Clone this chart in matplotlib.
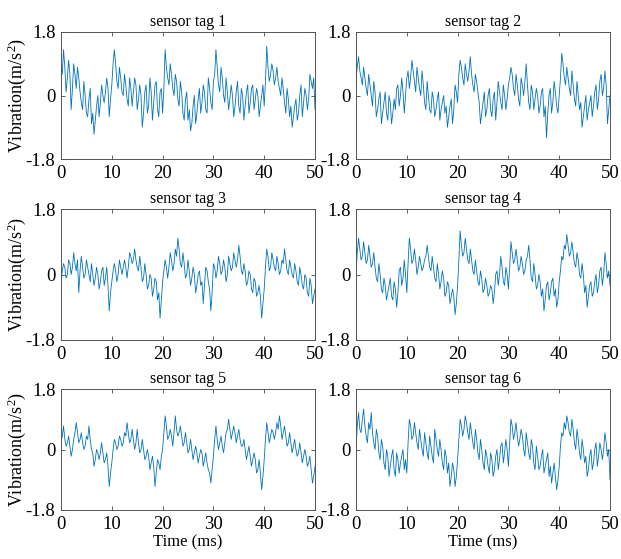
import matplotlib
matplotlib.use("Agg")
import matplotlib.pyplot as plt
import numpy as np

plt.rcParams['font.family'] = ['Liberation Serif', 'DejaVu Serif']
plt.rcParams['mathtext.fontset'] = 'custom'
plt.rcParams['mathtext.rm'] = 'Liberation Serif'
plt.rcParams['mathtext.default'] = 'regular'

# samples read every 0.5 ms (tagN) and the samples between them (tagN_mid)
tag1 = [0.9, 1.3, 0.1, 1.0, -0.4, 0.9, 0.2, 0.5, -0.2, 0.4,
        -0.5, -0.1, -0.8, -1.1, -0.3, -0.6, 0.3, -0.2, 0.5, -0.6,
        0.3, 1.3, 0.4, 0.8, 0.1, 0.6, -0.1, 0.5, -0.3, 0.5,
        -0.4, 0.3, -0.9, 0.1, -0.5, 0.5, -0.7, 0.3, -0.4, 0.1,
        -0.5, 1.3, 0.5, 0.9, 0.2, 0.6, -0.1, 0.4, -0.5, -0.1,
        -0.7, -1.0, -0.3, -0.8, -0.1, -0.5, 0.3, -0.4, 0.5, -0.2,
        0.4, 1.3, 0.3, 0.8, 0.0, 0.5, -0.4, 0.3, -0.6, 0.1,
        -0.3, 0.2, -0.7, 0.1, -0.5, 0.2, -0.4, 0.2, -0.6, 0.0,
        -0.3, 1.4, 0.4, 0.9, 0.3, 0.8, 0.2, 0.5, -0.2, 0.2,
        -0.6, -0.9, -0.3, -0.7, 0.0, -0.6, 0.2, -0.4, 0.6, 0.2,
        -0.4]
tag1_mid = [0.6, 0.8, 0.5, 0.6, 0.2, 0.6, 0.8, 0.1, -0.4, 0.0,
            -0.6, 0.2, -0.5, -0.7, 0.0, -0.2, 0.0, 0.1, 0.2, -0.1,
            0.9, 0.9, 0.2, 0.5, 0.0, 0.3, -0.3, 0.2, 0.1, 0.3,
            -0.1, 0.0, -0.5, 0.3, -0.3, 0.1, -0.2, 0.4, -0.6, 0.2,
            0.2, 0.8, 0.3, 0.6, 0.0, 0.4, -0.3, 0.1, -0.7, 0.1,
            -0.4, -0.8, 0.0, -0.5, 0.2, -0.2, 0.1, -0.5, 0.2, -0.4,
            0.6, 0.8, 0.1, 0.5, -0.2, 0.1, -0.1, 0.0, -0.3, 0.4,
            -0.5, 0.0, -0.3, 0.3, -0.2, 0.3, -0.1, 0.0, -0.3, 0.3,
            0.4, 0.8, 0.6, 0.7, 0.5, 0.4, 0.0, 0.2, -0.5, -0.1,
            -0.3, -0.6, -0.1, -0.5, 0.3, -0.2, 0.0, -0.1, 0.4, 0.5]

tag2 = [0.5, 1.1, 0.5, 0.8, 0.2, 0.6, 0.0, 0.4, -0.6, -0.1,
        -0.8, -0.2, -0.5, 0.0, -0.8, -0.1, 0.2, -0.3, 0.5, -0.5,
        0.5, 0.2, 1.0, 0.4, 0.8, 0.2, 0.7, -0.2, 0.4, -0.4,
        0.1, -0.6, -0.1, -0.7, -0.2, -0.5, -0.9, -0.3, -0.8, 0.3,
        -0.2, 1.0, 0.5, 0.9, 0.4, 1.1, 0.3, 0.6, 0.1, -0.8,
        -0.2, -0.6, 0.0, -0.4, -0.1, -0.7, 0.4, -0.2, 0.3, -0.4,
        0.3, 0.8, 0.2, 0.6, -0.1, 0.5, 0.0, 0.9, -0.2, 0.3,
        -0.4, 0.2, -0.5, 0.1, -0.6, -1.2, 0.0, -0.5, 0.4, -0.3,
        0.0, 1.2, 0.5, 0.8, 0.2, 0.7, -0.1, 0.4, -0.4, -0.9,
        -0.3, -0.7, -0.2, -0.6, 0.1, -0.4, 0.4, 0.0, 0.7, -0.8,
        0.0]
tag2_mid = [0.8, 0.7, 0.3, 0.5, 0.0, 0.3, -0.3, 0.1, -0.4, 0.1,
            -0.5, 0.1, -0.7, -0.2, -0.5, -0.4, 0.3, 0.0, 0.1, 0.0,
            0.7, 0.5, 0.7, 0.1, 0.5, 0.0, 0.3, -0.4, 0.0, -0.5,
            -0.1, -0.4, 0.1, -0.4, 0.0, -0.3, -0.6, -0.1, -0.4, 0.1,
            0.6, 0.8, 0.3, 0.6, 0.7, 0.6, 0.1, 0.4, -0.2, -0.5,
            0.1, -0.4, 0.2, -0.6, 0.1, -0.2, 0.1, -0.4, 0.0, -0.1,
            0.5, 0.6, 0.0, 0.3, -0.3, 0.3, 0.4, 0.3, -0.4, 0.1,
            -0.1, 0.0, -0.3, 0.2, -0.3, -0.5, 0.2, -0.2, 0.1, -0.5,
            0.5, 0.9, 0.3, 0.5, 0.0, 0.3, -0.3, 0.0, -0.2, -0.6,
            0.0, -0.4, 0.0, -0.3, 0.3, -0.1, 0.6, 0.2, 0.3, -0.4]

tag3 = [-0.3, 0.3, -0.1, 0.4, 0.0, 0.6, 0.1, -0.5, 0.5, -0.1,
        0.4, 0.0, 0.3, -0.3, 0.2, -0.4, 0.1, -0.3, 0.2, -1.0,
        -0.2, 0.3, -0.2, 0.4, 0.0, 0.4, -0.1, 0.6, 0.3, 0.7,
        0.2, 0.5, -0.2, 0.3, -0.4, 0.0, -0.6, -0.1, -0.7, -1.2,
        -0.2, 0.4, -0.1, 0.6, 0.1, 0.7, 1.0, 0.3, 0.6, -0.1,
        0.4, -0.3, 0.2, -0.5, 0.0, -0.3, -0.8, 0.2, -0.2, -1.0,
        0.3, -0.1, 0.5, 0.0, 0.4, -0.2, 0.5, 0.1, 0.6, 0.2,
        0.8, 0.1, 0.3, -0.3, 0.1, -0.4, -0.1, -0.6, -0.3, -1.2,
        -0.4, 0.7, 0.1, 0.6, 0.2, 0.5, 0.0, 0.4, 0.7, 0.1,
        0.4, 0.0, 0.3, -0.2, 0.2, -0.3, 0.0, -0.5, -0.1, -0.8,
        -0.4]
tag3_mid = [0.1, 0.2, 0.0, 0.3, 0.2, 0.3, 0.4, 0.1, 0.2, 0.0,
            0.2, -0.2, 0.0, -0.1, 0.0, -0.2, 0.2, -0.1, -0.3, -0.5,
            0.1, 0.1, 0.0, 0.2, 0.2, 0.2, 0.2, 0.5, 0.4, 0.4,
            0.1, 0.2, -0.1, 0.0, -0.3, -0.1, -0.4, -0.2, -0.5, -0.7,
            0.1, 0.2, 0.2, 0.4, 0.3, 0.5, 0.7, 0.2, 0.3, 0.0,
            0.1, -0.1, 0.0, -0.3, 0.1, -0.2, -0.3, 0.1, -0.4, -0.5,
            0.2, 0.1, 0.3, 0.1, 0.2, 0.0, 0.3, 0.2, 0.4, 0.4,
            0.5, 0.0, 0.1, -0.2, 0.0, -0.5, -0.2, -0.5, -0.6, -0.8,
            0.2, 0.5, 0.2, 0.4, 0.1, 0.3, 0.1, 0.3, 0.4, 0.0,
            0.2, -0.1, 0.1, -0.3, 0.0, -0.4, -0.1, -0.6, -0.3, -0.6]

tag4 = [0.0, 1.0, 0.4, 0.9, 0.3, 0.8, 0.2, 0.6, -0.1, 0.3,
        -0.4, -0.1, -0.7, -0.3, -0.6, -0.2, -0.9, 0.1, -0.3, 0.4,
        -0.5, 1.0, 0.3, 0.7, 0.0, 0.5, 0.1, 0.4, 0.8, 0.2,
        0.5, -0.1, 0.3, -0.4, 0.1, -0.6, -0.2, -0.8, -0.4, -1.1,
        -0.3, 1.2, 0.5, 1.0, 0.4, 0.7, 0.1, 0.4, -0.2, 0.1,
        -0.5, -0.1, -0.6, -0.3, -0.8, 0.0, -0.3, 0.5, -0.2, 0.2,
        -0.4, 0.9, 0.3, 0.7, 0.1, 0.5, 0.0, 0.4, 0.8, -0.1,
        0.3, -0.4, 0.0, -0.6, -1.0, -0.3, -0.7, -0.2, -0.6, -0.9,
        -0.2, 0.5, 0.8, 1.1, 0.5, 0.9, 0.3, 0.6, 0.0, 0.3,
        -0.5, -0.9, -0.3, -0.6, -0.2, -0.5, 0.1, -0.3, 0.6, -0.1,
        -0.3]
tag4_mid = [0.6, 0.7, 0.5, 0.6, 0.4, 0.5, 0.3, 0.2, -0.2, 0.0,
            -0.5, -0.3, -0.5, -0.1, -0.7, -0.4, -0.5, 0.2, -0.1, 0.0,
            0.3, 0.7, 0.4, 0.4, 0.2, 0.3, 0.2, 0.5, 0.5, 0.1,
            0.2, -0.2, 0.0, -0.2, -0.1, -0.5, -0.3, -0.6, -0.6, -0.8,
            0.4, 0.8, 0.6, 0.7, 0.3, 0.4, 0.0, 0.1, -0.3, -0.1,
            -0.4, -0.3, -0.5, -0.4, -0.5, 0.1, 0.0, 0.2, -0.3, 0.0,
            0.2, 0.6, 0.4, 0.4, 0.2, 0.3, 0.1, 0.5, 0.4, -0.2,
            0.0, -0.3, -0.2, -0.4, -0.7, -0.2, -0.5, -0.1, -0.4, -0.7,
            0.1, 0.4, 0.7, 0.8, 0.6, 0.6, 0.2, 0.4, -0.1, 0.0,
            -0.3, -0.6, -0.2, -0.5, 0.0, -0.3, 0.2, 0.0, 0.3, 0.1]

tag5 = [0.2, 0.7, 0.1, 0.4, -0.2, 0.3, 0.8, 0.2, 0.5, 0.0,
        0.4, 0.7, 0.0, -0.5, 0.0, -0.3, 0.2, -0.4, -0.1, -1.1,
        -0.4, 0.3, 0.0, 0.4, 0.1, 0.5, 0.8, 0.2, 0.6, 0.0,
        0.6, -0.1, 0.3, -0.3, 0.0, -0.6, -0.2, -1.1, -0.3, -0.6,
        0.0, 1.0, 0.3, 0.6, 0.1, 1.0, 0.4, 0.7, 0.1, 0.5,
        -0.1, 0.3, -0.3, 0.1, -0.4, 0.0, -0.5, -0.1, -0.6, -1.0,
        -0.2, 0.7, 0.0, 0.4, -0.1, 0.5, 0.9, 0.3, 0.7, 0.2,
        0.6, 0.1, 0.3, -0.3, 0.1, -0.5, -0.1, -0.7, -0.3, -1.2,
        -0.3, 0.8, 0.2, 0.6, 0.3, 0.8, 1.0, 0.3, 0.7, 0.1,
        0.5, -0.1, 0.3, -0.2, 0.2, -0.4, 0.0, -0.5, -0.2, -1.0,
        -0.5]
tag5_mid = [0.4, 0.3, 0.2, 0.1, 0.0, 0.5, 0.5, 0.3, 0.2, 0.1,
            0.3, 0.3, -0.1, -0.3, -0.1, -0.1, -0.1, -0.3, -0.5, -0.7,
            0.0, 0.2, 0.1, 0.3, 0.2, 0.4, 0.5, 0.3, 0.3, 0.2,
            0.2, 0.0, 0.0, -0.2, -0.2, -0.4, -0.5, -0.7, -0.4, -0.2,
            0.5, 0.7, 0.4, 0.4, 0.5, 0.6, 0.5, 0.4, 0.2, 0.2,
            0.0, 0.0, -0.1, -0.1, -0.2, -0.1, -0.3, -0.4, -0.7, -0.6,
            0.3, 0.3, 0.2, 0.1, 0.2, 0.6, 0.6, 0.5, 0.5, 0.4,
            0.3, 0.1, 0.0, -0.1, -0.2, -0.3, -0.3, -0.6, -0.7, -0.8,
            0.3, 0.5, 0.4, 0.5, 0.5, 0.6, 0.7, 0.5, 0.4, 0.2,
            0.2, 0.1, 0.0, -0.1, -0.1, -0.2, -0.2, -0.4, -0.6, -0.8]

tag6 = [0.0, 1.1, 0.5, 1.2, 0.4, 0.8, 1.1, 0.2, 0.6, -0.1,
        0.3, -0.4, 0.0, -0.8, -0.2, -0.6, -0.1, -0.7, -0.2, -0.6,
        -0.7, 0.9, 0.3, 0.8, 0.2, 0.6, 0.0, 0.5, -0.1, 0.4,
        -0.2, 0.6, 0.0, 0.3, -0.4, 0.0, -0.7, -1.1, -0.4, -1.1,
        -0.3, 0.9, 0.4, 1.0, 0.5, 0.8, 0.2, 0.6, -0.1, 0.3,
        -0.4, 0.0, -0.5, -0.1, -0.8, -0.2, -0.6, 0.1, -0.4, 0.3,
        -0.5, 0.9, 0.3, 0.8, 0.1, 0.6, 0.0, 0.5, -0.1, 0.3,
        -0.4, 0.1, -0.6, -0.2, -0.7, -0.3, -0.8, -1.0, -0.4, -1.2,
        -0.5, 0.5, 0.8, 1.0, 0.5, 0.9, 0.2, 0.6, -0.1, 0.3,
        -0.4, -0.8, -0.2, -0.6, 0.0, -0.5, 0.2, -0.3, 0.5, -0.2,
        -0.9]
tag6_mid = [0.7, 0.6, 0.9, 0.7, 0.2, 0.6, 0.5, 0.0, 0.4, -0.3,
            0.1, -0.6, -0.2, -0.5, 0.0, -0.8, -0.3, -0.4, 0.0, -0.3,
            0.2, 0.7, 0.4, 0.5, 0.0, 0.3, -0.2, 0.2, -0.3, 0.1,
            -0.4, 0.3, -0.2, 0.0, -0.6, -0.2, -0.4, -0.8, -0.6, -0.8,
            0.3, 0.7, 0.6, 0.8, 0.3, 0.5, 0.0, 0.3, -0.3, 0.0,
            -0.6, -0.2, -0.7, -0.3, -0.6, 0.0, -0.3, 0.2, -0.1, 0.0,
            0.2, 0.7, 0.5, 0.4, 0.3, 0.4, -0.2, 0.2, -0.3, 0.1,
            -0.6, -0.2, -0.5, 0.0, -0.5, -0.1, -0.5, -0.7, -0.8, -0.9,
            0.1, 0.4, 0.6, 0.8, 0.4, 0.6, 0.0, 0.3, -0.3, 0.0,
            -0.2, -0.6, 0.0, -0.4, 0.2, -0.2, 0.0, 0.0, 0.2, 0.0]

signals = [(tag1, tag1_mid), (tag2, tag2_mid), (tag3, tag3_mid),
           (tag4, tag4_mid), (tag5, tag5_mid), (tag6, tag6_mid)]
titles = ['sensor tag 1', 'sensor tag 2', 'sensor tag 3',
          'sensor tag 4', 'sensor tag 5', 'sensor tag 6']
xticks = [0, 10, 20, 30, 40, 50]
yticks = [-1.8, 0, 1.8]
yticklabels = ['-1.8', '0', '1.8']

# time axis in ms, one sample every 0.25 ms
time = np.linspace(0, 50, 201)

W, H = 621, 559
fig = plt.figure(figsize=(W / 100, H / 100), dpi=100)

# axes boxes in pixels: (left, right) and (top, bottom)
cols = [(61, 315), (356, 610)]
rows = [(32, 159), (209, 340), (389, 510)]

for i, (main, mid) in enumerate(signals):
    sig = np.empty(201)
    sig[0::2] = main
    sig[1::2] = mid
    r, c = divmod(i, 2)
    x0, x1 = cols[c]
    y0, y1 = rows[r]
    ax = fig.add_axes([x0 / W, 1 - y1 / H, (x1 - x0) / W, (y1 - y0) / H])
    ax.plot(time, sig, color='#0072BD', lw=0.6)
    ax.set_xlim(0, 50)
    ax.set_ylim(-1.8, 1.8)
    ax.set_xticks(xticks)
    ax.set_yticks(yticks)
    ax.set_yticklabels(yticklabels)
    ax.tick_params(direction='in', top=True, right=True, length=3,
                   width=0.6, labelsize=13.5, color='#444444', pad=4)
    for s in ax.spines.values():
        s.set_color('#555555')
        s.set_linewidth(0.7)
    ax.set_title(titles[i], fontsize=11.5, pad=4)
    if c == 0:
        ax.set_ylabel(r'Vibration(m/s$^2$)', fontsize=13)
        ax.yaxis.set_label_coords(-0.13, 0.5)
    if r == 2:
        ax.set_xlabel('Time (ms)', fontsize=12, labelpad=1)

fig.savefig('out.png', dpi=100)
